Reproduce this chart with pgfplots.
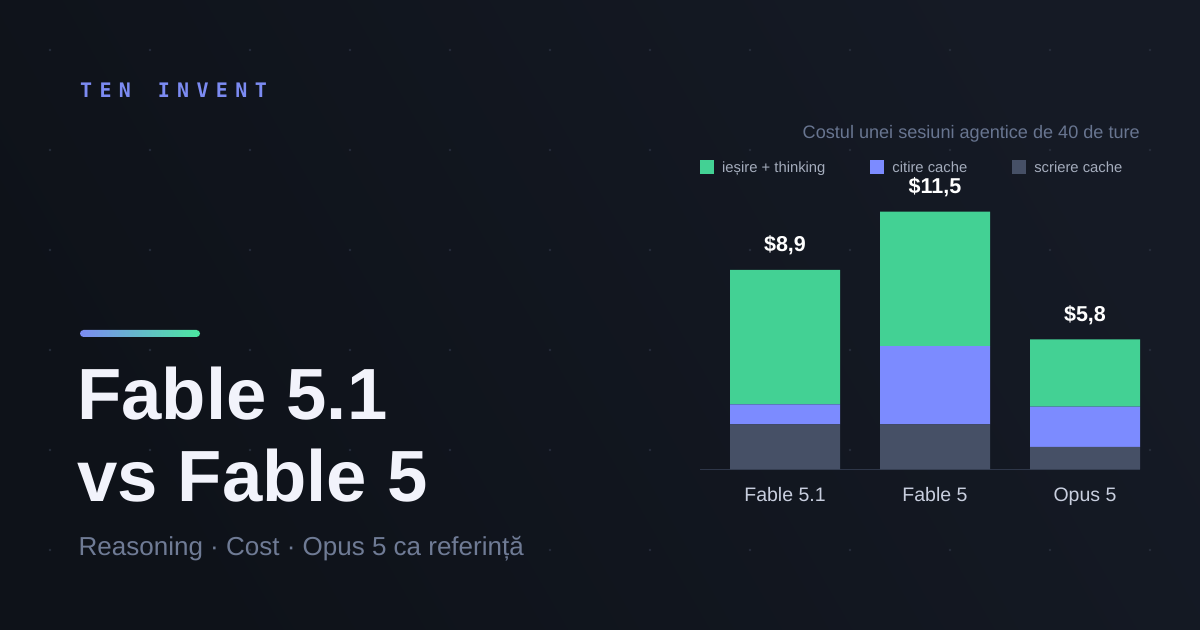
\documentclass[border=0pt]{standalone}
\usepackage{pgfplots}
\pgfplotsset{compat=1.18}
\usepackage{fontspec}
\setmainfont{Liberation Sans}
\newfontfamily\monofont{DejaVu Sans Mono}
\definecolor{bgA}{HTML}{0E1219}
\definecolor{bgB}{HTML}{151A25}
\definecolor{dotc}{HTML}{262C3A}
\definecolor{cgreen}{HTML}{43D194}
\definecolor{cblue}{HTML}{7C8BFF}
\definecolor{cgray}{HTML}{465066}
\definecolor{brand}{HTML}{7C8BF2}
\definecolor{titlec}{HTML}{F2F3FB}
\definecolor{subc}{HTML}{6F7B95}
\definecolor{ctitle}{HTML}{687590}
\definecolor{legtext}{HTML}{A4ACBC}
\definecolor{xlab}{HTML}{C8CEDE}
\definecolor{basec}{HTML}{2E3648}
\definecolor{gradL}{HTML}{7C8BF2}
\definecolor{gradR}{HTML}{4BE8A0}

\pgfplotstableread{
x out read write
0 6.0 0.9 2.0
1 6.0 3.5 2.0
2 3.0 1.8 1.0
}\costdata

\begin{document}
\begin{tikzpicture}
% background
\shade[left color=bgA, right color=bgB, shading angle=120] (0bp,0bp) rectangle (1200bp,630bp);
\begin{scope}[x=1bp,y=1bp]
\foreach \i in {0,...,11}{
  \foreach \j in {0,...,5}{
    \fill[dotc] ({50+100*\i},{580-100*\j}) circle (1.3bp);
  }
}
% brand
\foreach \c [count=\k from 0] in {T,E,N,{},I,N,V,E,N,T}{
  \node[anchor=base west, inner sep=0pt, text=brand, font=\monofont\bfseries\fontsize{20bp}{24bp}\selectfont] at ({80+19.4*\k},532.3) {\c};
}
\end{scope}
% gradient bar
\shade[left color=gradL, right color=gradR, rounded corners=3.5bp] (80bp,293bp) rectangle (200bp,300bp);
% title
\node[anchor=base west, inner sep=0pt, text=titlec, font=\bfseries\fontsize{72.5bp}{80bp}\selectfont] at (77bp,210bp) {Fable 5.1};
\node[anchor=base west, inner sep=0pt, text=titlec, font=\bfseries\fontsize{72.5bp}{80bp}\selectfont] at (77bp,128.3bp) {vs Fable 5};
\node[anchor=base west, inner sep=0pt, text=subc, font=\fontsize{26bp}{30bp}\selectfont] at (78.5bp,74bp) {Reasoning · Cost · Opus 5 ca referință};
% chart title
\node[anchor=base east, inner sep=0pt, text=ctitle, font=\fontsize{18.1bp}{21bp}\selectfont] at (1140bp,491bp) {Costul unei sesiuni agentice de 40 de ture};

\begin{axis}[
  at={(700bp,160.7bp)}, anchor=south west,
  scale only axis, width=440bp, height=268.8bp,
  xmin=-0.5667, xmax=2.3667, ymin=0, ymax=12,
  ybar stacked, bar width=110bp,
  axis x line*=bottom, axis y line=none,
  x axis line style={draw=basec, line width=1bp},
  xtick={0,1,2}, xticklabels={Fable 5.1, Fable 5, Opus 5},
  major tick length=0pt, xtick style={draw=none},
  xticklabel style={font=\fontsize{19.5bp}{23bp}\selectfont, text=xlab, anchor=base, yshift=-32.5bp, inner sep=0pt},
  ytick=\empty,
  clip=false,
  legend columns=3,
  reverse legend,
  legend style={at={(axis description cs:0,1.1246)}, anchor=west, draw=none, fill=none, inner sep=0pt, column sep=0pt,
     font=\fontsize{14.8bp}{17bp}\selectfont, text=legtext,
     nodes={inner sep=0pt},
     /tikz/every odd column/.append style={column sep=8bp},
     /tikz/every even column/.append style={column sep=45bp}},
  legend image code/.code={\fill[#1] (0bp,-5.4bp) rectangle (14bp,8.6bp);},
]
\addplot[fill=cgray, draw=none] table[x=x, y=write] {\costdata};
\addlegendentry{scriere cache}
\addplot[fill=cblue, draw=none] table[x=x, y=read] {\costdata};
\addlegendentry{citire cache}
\addplot[fill=cgreen, draw=none] table[x=x, y=out] {\costdata};
\addlegendentry{ieșire + thinking}
\node[anchor=base, inner sep=0pt, text=white, font=\bfseries\fontsize{21.5bp}{25bp}\selectfont, yshift=18.3bp] at (axis cs:0,8.9) {\$8,9};
\node[anchor=base, inner sep=0pt, text=white, font=\bfseries\fontsize{21.5bp}{25bp}\selectfont, yshift=18.3bp] at (axis cs:1,11.5) {\$11,5};
\node[anchor=base, inner sep=0pt, text=white, font=\bfseries\fontsize{21.5bp}{25bp}\selectfont, yshift=18.3bp] at (axis cs:2,5.8) {\$5,8};
\end{axis}
\pgfresetboundingbox
\path[use as bounding box] (0bp,0bp) rectangle (1200bp,630bp);
\end{tikzpicture}
\end{document}
